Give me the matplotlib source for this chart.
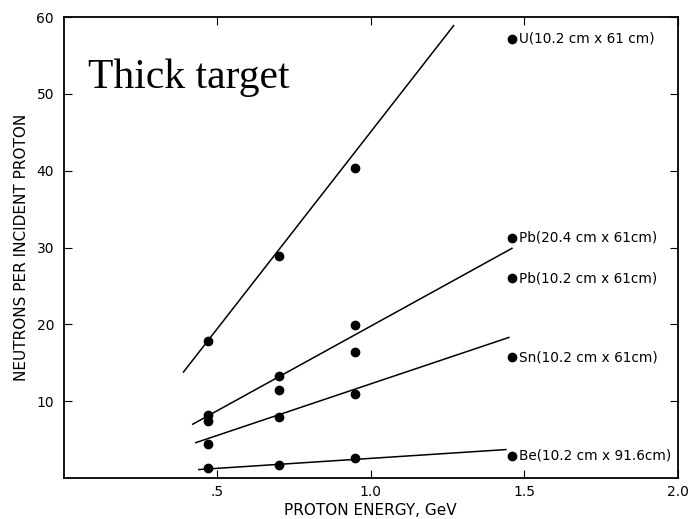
import matplotlib.pyplot as plt

# Proton energies (GeV) of the measurements
energy = [0.47, 0.70, 0.95]

# Neutrons per incident proton for each target
u_yield = [17.8, 28.9, 40.3]
pb20_yield = [8.2, 13.3, 19.9]
pb10_yield = [7.4, 11.4, 16.4]
sn_yield = [4.4, 8.0, 11.0]
be_yield = [1.3, 1.7, 2.6]

# Straight-line fits (start / end energy and yield)
u_fit_x, u_fit_y = [0.39, 1.27], [13.8, 58.9]
pb_fit_x, pb_fit_y = [0.42, 1.46], [7.0, 29.9]
sn_fit_x, sn_fit_y = [0.43, 1.45], [4.6, 18.3]
be_fit_x, be_fit_y = [0.44, 1.44], [1.1, 3.7]

# Key entries drawn on the right side of the plot
key_x = 1.46
key_y = [57.2, 31.3, 26.0, 15.7, 2.9]
key_labels = ['U(10.2 cm x 61 cm)', 'Pb(20.4 cm x 61cm)', 'Pb(10.2 cm x 61cm)',
              'Sn(10.2 cm x 61cm)', 'Be(10.2 cm x 91.6cm)']

fig = plt.figure(figsize=(6.93, 5.19), dpi=100)
ax = fig.add_axes([0.092, 0.079, 0.886, 0.888])

for ys in [u_yield, pb20_yield, pb10_yield, sn_yield, be_yield]:
    ax.plot(energy, ys, 'o', color='black', markersize=6)

for fx, fy in [(u_fit_x, u_fit_y), (pb_fit_x, pb_fit_y),
               (sn_fit_x, sn_fit_y), (be_fit_x, be_fit_y)]:
    ax.plot(fx, fy, '-', color='black', linewidth=1.1)

for ky, lab in zip(key_y, key_labels):
    ax.plot(key_x, ky, 'o', color='black', markersize=6)
    ax.text(key_x + 0.022, ky, lab, fontsize=9.8, va='center', ha='left')

ax.text(0.08, 50.8, 'Thick target', family='Liberation Serif', fontsize=30,
        va='baseline')

ax.set_xlim(0, 2.0)
ax.set_ylim(0, 60)
ax.set_xticks([0.5, 1.0, 1.5, 2.0])
ax.set_xticklabels(['.5', '1.0', '1.5', '2.0'])
ax.set_yticks([10, 20, 30, 40, 50, 60])
ax.tick_params(direction='in', top=True, right=True, length=6, labelsize=10)
ax.tick_params(axis='y', pad=7)
ax.tick_params(axis='x', pad=5)
for s in ax.spines.values():
    s.set_linewidth(1.3)

ax.set_xlabel('PROTON ENERGY, GeV', fontsize=11, labelpad=3)
ax.set_ylabel('NEUTRONS PER INCIDENT PROTON', fontsize=11, labelpad=5)

fig.savefig('out.png', dpi=100)
